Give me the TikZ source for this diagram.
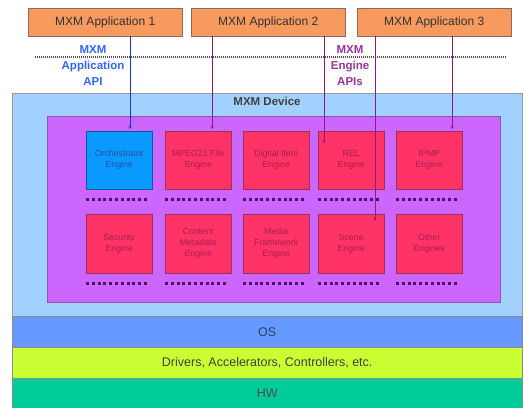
\documentclass[tikz,border=0pt]{standalone}
\usepackage{fontspec}
\setmainfont{Liberation Sans}
\usetikzlibrary{arrows.meta}
\definecolor{appfill}{HTML}{F89A5E}
\definecolor{appline}{HTML}{8A6A5A}
\definecolor{devfill}{HTML}{A3D1FF}
\definecolor{panelfill}{HTML}{CC66FF}
\definecolor{panelline}{HTML}{8A5AAA}
\definecolor{engfill}{HTML}{FF3366}
\definecolor{engline}{HTML}{99335A}
\definecolor{engtext}{HTML}{A81E4E}
\definecolor{orchfill}{HTML}{0A99FF}
\definecolor{orchtext}{HTML}{1A55A0}
\definecolor{osfill}{HTML}{6699FF}
\definecolor{drvfill}{HTML}{CCFF33}
\definecolor{hwfill}{HTML}{00CC99}
\definecolor{apiblue}{HTML}{3366FF}
\definecolor{apipurple}{HTML}{993399}
\definecolor{dotpurple}{HTML}{4A1070}
\definecolor{linkpurple}{HTML}{8A1A8A}
\definecolor{linkblue}{HTML}{2233CC}
\begin{document}
\begin{tikzpicture}[x=1pt,y=-1pt,
  app/.style={draw=appline, fill=appfill, anchor=north west, minimum width=154pt,
    minimum height=28pt, inner sep=0pt, font=\fontsize{12}{14}\selectfont, text=black!80},
  engine/.style={draw=engline, fill=engfill, anchor=north west, minimum width=66pt,
    minimum height=58pt, inner sep=1pt, align=center, text=engtext,
    font=\fontsize{8.8}{11}\selectfont},
  band/.style={draw=black!45, minimum width=510pt, minimum height=31pt, anchor=north west,
    inner sep=0pt, font=\fontsize{12.5}{14}\selectfont},
  engdots/.style={draw=dotpurple, line width=3pt, dash pattern=on 3pt off 2.8pt},
  apilabel/.style={align=center, font=\bfseries\fontsize{11.5}{16}\selectfont},
  link/.style={line width=0.9pt, -{Stealth[length=3pt,width=3pt]}}
]
\useasboundingbox (0,0) rectangle (524,407);
\fill[white] (0,0) rectangle (524,407);

% device area and platform layers
\node[draw=black!40, fill=devfill, anchor=north west, minimum width=510pt,
  minimum height=223pt, inner sep=0pt] (dev) at (12,93) {};
\node[font=\bfseries\fontsize{11.5}{13}\selectfont, text=black!75] (devlabel) at (267,101) {MXM Device};
\node[band, fill=osfill, text=osfill!40!black] (os) at (12,316) {OS};
\node[band, fill=drvfill, text=black!75] (drv) at (12,347) {Drivers, Accelerators, Controllers, etc.};
\node[band, fill=hwfill, text=black!70, minimum height=30pt] (hw) at (12,378) {HW};

% engine panel
\node[draw=panelline, fill=panelfill, anchor=north west, minimum width=453pt,
  minimum height=186pt, inner sep=0pt] (panel) at (47,116) {};

% engines, first row
\node[engine, fill=orchfill, draw=orchfill!60!black, text=orchtext] (e11) at (86,131) {Orchestrator\\Engine};
\node[engine] (e12) at (165,131) {MPEG21 File\\Engine};
\node[engine] (e13) at (243,131) {Digital Item\\Engine};
\node[engine] (e14) at (318,131) {REL\\Engine};
\node[engine] (e15) at (396,131) {IPMP\\Engine};
% engines, second row
\node[engine, minimum height=59pt] (e21) at (86,214) {Security\\Engine};
\node[engine, minimum height=59pt] (e22) at (165,214) {Content\\Metadata\\Engine};
\node[engine, minimum height=59pt] (e23) at (243,214) {Media\\Framework\\Engine};
\node[engine, minimum height=59pt] (e24) at (318,214) {Scene\\Engine};
\node[engine, minimum height=59pt] (e25) at (396,214) {Other\\Engines};

% dotted rows under the engines
\foreach \e in {e11,e12,e13,e14,e15,e21,e22,e23,e24,e25}
  \draw[engdots] ([yshift=-10pt]\e.south west) -- ([xshift=-3pt,yshift=-10pt]\e.south east);

% applications
\node[app] (a1) at (28,8) {MXM Application 1};
\node[app] (a2) at (191,8) {MXM Application 2};
\node[app] (a3) at (357,8) {MXM Application 3};

% API boundary
\coordinate (apil) at (35,57);
\coordinate (apir) at (506,57);
\draw[black!70, line width=1.6pt, dash pattern=on 1pt off 1pt] (apil) -- (apir);
\node[apilabel, text=apiblue] (appapi) at (93,66) {MXM\\Application\\API};
\node[apilabel, text=apipurple] (engapi) at (350,66) {MXM\\Engine\\APIs};

% connections from applications to engines
\coordinate (x1) at (130,0);
\coordinate (x2) at (212,0);
\coordinate (x3) at (324,0);
\coordinate (x4) at (375,0);
\coordinate (x5) at (452,0);
\draw[link, linkblue] (a1.south -| x1) -- ([yshift=2pt]e11.north -| x1);
\draw[link, linkpurple] (a2.south -| x2) -- ([yshift=2pt]e12.north -| x2);
\draw[link, linkpurple] (a2.south -| x3) -- ([yshift=-12pt]e14.north -| x3);
\draw[link, linkpurple] (a3.south -| x4) -- ([yshift=-7pt]e24.north -| x4);
\draw[link, linkpurple] (a3.south -| x5) -- ([yshift=2pt]e15.north -| x5);
\end{tikzpicture}
\end{document}
